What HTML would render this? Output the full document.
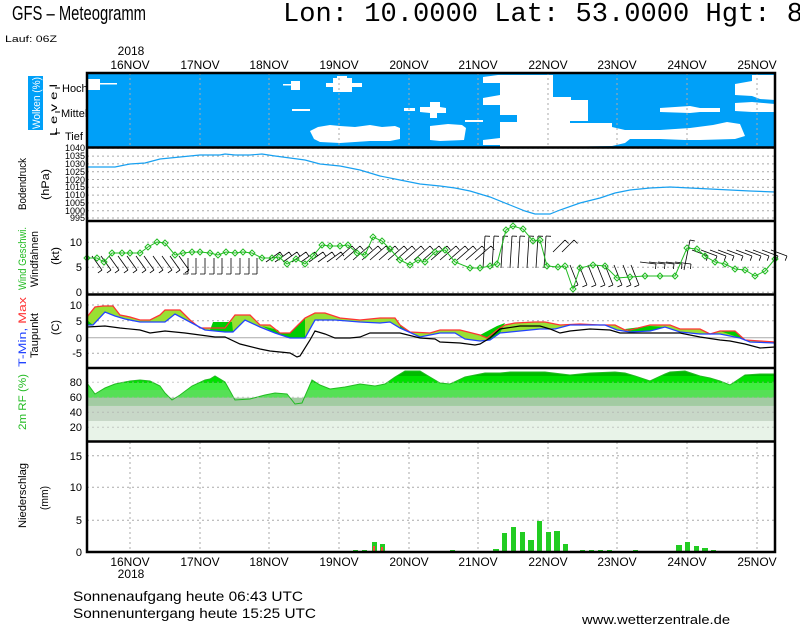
<!DOCTYPE html>
<html><head><meta charset="utf-8"><style>
html,body{margin:0;padding:0;background:#fff;}
svg{display:block;font-family:"Liberation Sans",sans-serif;}
</style></head><body>
<svg width="800" height="625" viewBox="0 0 800 625" xmlns="http://www.w3.org/2000/svg">
<rect width="800" height="625" fill="#fff"/>
<!-- titles -->
<text x="12" y="20" font-size="20" textLength="134" lengthAdjust="spacingAndGlyphs">GFS – Meteogramm</text>
<text x="283" y="21" font-size="27" font-family="Liberation Mono, monospace" textLength="520" lengthAdjust="spacingAndGlyphs">Lon: 10.0000 Lat: 53.0000 Hgt: 8</text>
<text x="5" y="42" font-size="9" textLength="52" lengthAdjust="spacingAndGlyphs">Lauf: 06Z</text>

<!-- top date labels -->
<g font-size="12" text-anchor="middle">
<text x="131" y="55">2018</text>
<text x="130" y="69">16NOV</text><text x="200" y="69">17NOV</text><text x="269" y="69">18NOV</text>
<text x="339" y="69">19NOV</text><text x="409" y="69">20NOV</text><text x="478" y="69">21NOV</text>
<text x="548" y="69">22NOV</text><text x="617" y="69">23NOV</text><text x="687" y="69">24NOV</text>
<text x="757" y="69">25NOV</text>
<text x="130" y="566">16NOV</text><text x="200" y="566">17NOV</text><text x="269" y="566">18NOV</text>
<text x="339" y="566">19NOV</text><text x="409" y="566">20NOV</text><text x="478" y="566">21NOV</text>
<text x="548" y="566">22NOV</text><text x="617" y="566">23NOV</text><text x="687" y="566">24NOV</text>
<text x="757" y="566">25NOV</text>
<text x="131" y="578">2018</text>
</g>

<!-- CLOUD PANEL -->
<rect x="87" y="73" width="688" height="74" fill="#00a0f8"/>
<g fill="#fff">
<rect x="88" y="79" width="12" height="11"/><rect x="100" y="83" width="17" height="1.5"/>
<rect x="283" y="84" width="10" height="1.5"/><rect x="291" y="81" width="9" height="9"/>
<rect x="326" y="83" width="36" height="4"/><rect x="333" y="78" width="19" height="14"/><rect x="337" y="76" width="10" height="2"/>
<rect x="292" y="109" width="18" height="2"/>
<polygon points="310,131 318,127 330,125 340,126 355,127 370,125 382,127 395,126 400,128 400,139 390,141 370,141 340,143 320,142 314,139"/>
<rect x="404" y="108" width="11" height="3"/>
<polygon points="420,107 430,107 430,102 440,102 440,107 446,108 446,113 437,113 437,118 430,118 430,113 420,112"/>
<polygon points="430,126 448,124 462,125 466,128 464,140 440,141 430,140"/>
<polygon points="483,77 498,75 553,75 553,97 571,97 571,100 588,100 588,121 570,121 570,123 612,123 612,127 625,130 660,130 690,128 713,125 727,122 740,124 745,136 735,139 700,140 685,140 660,139 630,139 625,143 612,146 560,147 500,147 500,145 483,145 483,140 500,138 500,122 517,122 517,115 500,115 500,105 483,105 483,98 500,95 500,83 483,83"/>
<rect x="465" y="120" width="18" height="2"/>
<polygon points="660,108 690,106 700,108 700,112 690,113 660,112"/>
<rect x="700" y="108" width="20" height="4"/>
<polygon points="735,103 752,102 775,104 775,112 752,112 735,111"/>
<polygon points="735,84 752,81 752,75 775,75 775,100 760,99 752,96 735,95"/>
</g>
<g stroke="#aaa" stroke-dasharray="2,3" stroke-width="1">
<path d="M130 73V147M200 73V147M269 73V147M339 73V147M409 73V147M478 73V147M548 73V147M617 73V147M687 73V147M757 73V147"/>
</g>
<rect x="28" y="76" width="15" height="54" fill="#00a0f8"/>
<text transform="translate(40,129) rotate(-90)" font-size="11" fill="#fff" textLength="52" lengthAdjust="spacingAndGlyphs">Wolken (%)</text>
<text transform="translate(57,136) rotate(-90)" font-size="10" textLength="52" lengthAdjust="spacingAndGlyphs">L e v e l</text>
<g font-size="11"><text x="62" y="92">Hoch</text><text x="61" y="117">Mittel</text><text x="65" y="140">Tief</text></g>
<path d="M55 88H60M55 112H60M55 133H60" stroke="#000"/>

<!-- PRESSURE -->
<g stroke="#aaa" stroke-dasharray="2,3">
<path d="M87 148.3H775M87 156.1H775M87 163.9H775M87 171.7H775M87 179.5H775M87 187.3H775M87 195.1H775M87 202.9H775M87 210.7H775M87 218H775"/>
</g>
<g font-size="9" text-anchor="end">
<text x="85" y="151">1040</text><text x="85" y="159">1035</text><text x="85" y="167">1030</text><text x="85" y="175">1025</text><text x="85" y="183">1020</text><text x="85" y="190">1015</text><text x="85" y="198">1010</text><text x="85" y="206">1005</text><text x="85" y="214">1000</text><text x="85" y="221">995</text>
</g>
<text transform="translate(26,210) rotate(-90)" font-size="11" textLength="52" lengthAdjust="spacingAndGlyphs">Bodendruck</text>
<text transform="translate(49,200) rotate(-90)" font-size="11" textLength="31" lengthAdjust="spacingAndGlyphs">(hPa)</text>
<polyline fill="none" stroke="#18a0f0" stroke-width="1.2" points="87,167 115,167 130,164 145,163 160,159 180,157 200,155 220,155 225,154 235,155 250,155 262,154 275,156 290,158 305,160 320,164 340,166 360,170 380,176 400,180 420,184 440,186 455,188 470,191 490,197 510,205 525,211 535,214 550,214 560,210 580,203 600,198 615,193 630,190 650,188 670,187 690,188 710,189 730,190 750,191 775,192"/>

<!-- WIND -->
<g stroke="#aaa" stroke-dasharray="2,3"><path d="M87 242.3H775M87 267.3H775M87 292.3H775"/></g>
<g font-size="11" text-anchor="end"><text x="82" y="246">10</text><text x="82" y="271">5</text><text x="82" y="296">0</text></g>
<text transform="translate(26,290) rotate(-90)" font-size="11" fill="#22bb22" textLength="63" lengthAdjust="spacingAndGlyphs">Wind Geschwi.</text>
<text transform="translate(38,287) rotate(-90)" font-size="11" textLength="56" lengthAdjust="spacingAndGlyphs">Windfahnen</text>
<text transform="translate(59,265) rotate(-90)" font-size="11" textLength="18" lengthAdjust="spacingAndGlyphs">(kt)</text>
<path id="barbs" fill="none" stroke="#000" stroke-width="0.8" d=""/>
<polyline id="wsp" fill="none" stroke="#22bb22" stroke-width="1" points="87,258 97,258 104,262 112,253 122,253 130,253 140,253 148,247 157,242 165,243 175,255 183,253 192,252 200,252 210,253 218,255 226,252 235,253 243,252 252,253 262,258 272,258 279,257 287,264 296,259 305,264 313,256 322,245 330,246 340,246 348,245 357,253 365,255 373,237 382,241 390,249 400,260 410,265 418,260 425,262 435,252 445,250 455,262 470,268 480,268 490,266 497,264 506,230 513,226 523,229 533,241 540,240 547,266 558,267 565,266 573,289 580,268 593,265 605,266 617,278 630,277 645,276 660,276 675,276 687,248 697,249 705,256 715,262 725,264 735,269 745,270 755,276 765,271 775,259"/>
<g id="diam" fill="none" stroke="#22bb22"></g>

<!-- TEMPERATURE -->
<g stroke="#aaa" stroke-dasharray="2,3"><path d="M87 305H775M87 320.7H775M87 353.3H775"/></g>
<path d="M87 337.7H775" stroke="#aaa"/>
<g font-size="11" text-anchor="end"><text x="82" y="309">10</text><text x="82" y="325">5</text><text x="82" y="342">0</text><text x="82" y="357">-5</text></g>
<text transform="translate(26,367) rotate(-90)" font-size="11" textLength="70" lengthAdjust="spacingAndGlyphs"><tspan fill="#2244ff">T-Min, </tspan><tspan fill="#ff3333">Max</tspan></text>
<text transform="translate(38,358) rotate(-90)" font-size="11" textLength="45" lengthAdjust="spacingAndGlyphs">Taupunkt</text>
<text transform="translate(59,335) rotate(-90)" font-size="11" textLength="15" lengthAdjust="spacingAndGlyphs">(C)</text>
<polygon fill="#99e033" points="87,317 95,307 103,306 113,306 120,315 130,317 140,320 150,320 160,315 165,310 180,310 190,320 200,328 225,328 235,315 250,315 260,325 270,325 280,333 290,333 305,318 315,313 325,313 340,318 360,320 380,318 395,318 400,325 410,332 430,333 440,330 460,330 480,335 487,338 497,330 505,325 515,323 535,322 545,322 560,325 580,324 600,325 615,325 625,330 630,330 650,325 670,325 680,329 700,329 710,334 720,331 735,331 745,340 760,341 775,342 775,343 750,342 740,338 720,334 700,334 680,332 665,327 650,331 630,332 617,330 605,325 570,325 555,329 540,329 510,332 500,333 490,340 480,341 465,339 455,333 440,333 420,337 400,328 390,322 380,323 360,322 335,320 315,320 305,338 290,338 275,333 260,327 245,320 233,332 225,332 205,330 190,322 175,314 165,322 155,322 140,322 125,319 115,316 105,312 93,325 87,325"/>
<g fill="#00cc00">
<polygon points="87,320 93,325 87,325"/>
<polygon points="213,322 232,322 233,332 225,332 210,330"/>
<polygon points="262,326 278,330 280,333 290,333 305,318 305,338 290,338 275,333"/>
<polygon points="400,325 410,332 420,337 400,328"/>
<polygon points="480,335 497,326 505,323 500,333 490,340"/>
<polygon points="625,329 650,326 665,327 650,331 630,332"/>
<polygon points="720,331 735,331 745,340 740,338"/>
</g>
<polyline fill="none" stroke="#ff3333" stroke-width="1.3" points="87,317 95,307 103,306 113,306 120,315 130,317 140,320 150,320 160,315 165,310 180,310 190,320 200,328 225,328 235,315 250,315 260,325 270,325 280,333 290,333 305,318 315,313 325,313 340,318 360,320 380,318 395,318 400,325 410,332 430,333 440,330 460,330 480,335 487,338 497,330 505,325 515,323 535,322 545,322 560,325 580,324 600,325 615,325 625,330 630,330 650,325 670,325 680,329 700,329 710,334 720,331 735,331 745,340 760,341 775,342"/>
<polyline fill="none" stroke="#2244ff" stroke-width="1.3" points="87,325 93,325 105,312 115,316 125,319 140,322 155,322 165,322 175,314 190,322 205,330 225,332 233,332 245,320 260,327 275,333 290,338 305,338 315,320 335,320 360,322 380,323 390,322 400,328 420,337 440,333 455,333 465,339 480,341 490,340 500,333 510,332 540,329 555,329 570,325 605,325 617,330 630,332 650,331 665,327 680,332 700,334 720,334 740,338 750,342 775,343"/>
<polyline fill="none" stroke="#000" stroke-width="1.2" points="87,327 105,326 120,328 140,330 150,333 165,331 185,333 200,335 215,337 225,337 240,344 260,349 270,351 290,353 297,357 300,356 310,340 315,331 325,334 335,338 350,338 360,337 370,333 390,333 400,333 420,338 435,339 440,342 460,343 475,345 480,344 490,338 500,329 520,326 540,326 550,329 560,333 570,331 590,329 610,330 620,333 640,333 660,333 680,333 700,337 720,340 730,341 745,344 760,348 775,347"/>

<!-- RH -->
<defs><clipPath id="rh"><polygon points="87,441.5 87,383 95,394 105,388 115,384 130,381 140,380 150,381 160,386 165,393 172,400 180,395 192,386 205,380 210,379 215,376 225,382 235,400 250,399 265,395 275,393 287,394 295,404 302,403 312,380 320,385 330,389 345,387 360,384 375,386 385,384 395,377 405,371 420,371 430,377 440,383 450,384 465,377 475,375 485,373 500,373 510,372 545,372 570,375 590,373 615,372 625,373 635,376 650,381 665,374 670,372 685,371 700,376 710,378 720,381 730,385 745,375 760,374 775,374 775,441.5"/></clipPath></defs>
<g clip-path="url(#rh)">
<rect x="87" y="368" width="688" height="8" fill="#00bb00"/>
<rect x="87" y="376" width="688" height="7" fill="#00e000"/>
<rect x="87" y="383" width="688" height="7" fill="#40ee40"/>
<rect x="87" y="390" width="688" height="8" fill="#56e056"/>
<rect x="87" y="398" width="688" height="8" fill="#78d478"/>
</g>
<rect x="87" y="421" width="688" height="20.5" fill="#e8f3e8"/>
<rect x="87" y="405.7" width="688" height="15.3" fill="#c8d8c8"/>
<rect x="87" y="397.7" width="688" height="8" fill="#a3cba3"/>
<polyline fill="none" stroke="#22bb22" points="87,383 95,394 105,388 115,384 130,381 140,380 150,381 160,386 165,393 172,400 180,395 192,386 205,380 210,379 215,376 225,382 235,400 250,399 265,395 275,393 287,394 295,404 302,403 312,380 320,385 330,389 345,387 360,384 375,386 385,384 395,377 405,371 420,371 430,377 440,383 450,384 465,377 475,375 485,373 500,373 510,372 545,372 570,375 590,373 615,372 625,373 635,376 650,381 665,374 670,372 685,371 700,376 710,378 720,381 730,385 745,375 760,374 775,374"/>
<g stroke="#aaa" stroke-dasharray="2,3" opacity="0.6"><path d="M87 382.3H775M87 397.3H775M87 412.3H775M87 427.3H775"/></g>
<g font-size="11" text-anchor="end"><text x="82" y="386">80</text><text x="82" y="401">60</text><text x="82" y="416">40</text><text x="82" y="431">20</text></g>
<text transform="translate(26,430) rotate(-90)" font-size="11" fill="#22bb22" textLength="56" lengthAdjust="spacingAndGlyphs">2m RF (%)</text>

<!-- PRECIP -->
<g stroke="#aaa" stroke-dasharray="2,3">
<path d="M87 455.7H775M87 487.3H775M87 520.3H775"/>
<path d="M130 442V552M200 442V552M269 442V552M339 442V552M409 442V552M478 442V552M548 442V552M617 442V552M687 442V552M757 442V552"/>
</g>
<g font-size="11" text-anchor="end"><text x="82" y="460">15</text><text x="82" y="491">10</text><text x="82" y="524">5</text><text x="82" y="556">0</text></g>
<text transform="translate(26,528) rotate(-90)" font-size="11" textLength="65" lengthAdjust="spacingAndGlyphs">Niederschlag</text>
<text transform="translate(48,510) rotate(-90)" font-size="11" textLength="24" lengthAdjust="spacingAndGlyphs">(mm)</text>
<g fill="#22cc22">
<rect x="353" y="550" width="5" height="2"/><rect x="362" y="550" width="5" height="2"/><rect x="372" y="542" width="5" height="10"/><rect x="380" y="544" width="5" height="8"/>
<rect x="450" y="550" width="5" height="2"/>
<rect x="493" y="549" width="6" height="3"/><rect x="502" y="533" width="5" height="19"/><rect x="511" y="527" width="5" height="25"/><rect x="520" y="532" width="5" height="20"/><rect x="528" y="540" width="6" height="12"/><rect x="537" y="521" width="5" height="31"/><rect x="546" y="532" width="5" height="20"/><rect x="554" y="531" width="6" height="21"/><rect x="563" y="544" width="5" height="8"/>
<rect x="580" y="550" width="5" height="2"/><rect x="589" y="550" width="5" height="2"/><rect x="598" y="550" width="5" height="2"/><rect x="607" y="550" width="5" height="2"/><rect x="633" y="550" width="5" height="2"/>
<rect x="676" y="545" width="6" height="7"/><rect x="685" y="542" width="5" height="10"/><rect x="694" y="546" width="5" height="6"/><rect x="702" y="548" width="6" height="4"/><rect x="711" y="550" width="5" height="2"/>
</g>
<g fill="#ff4444"><rect x="373" y="546" width="2" height="6"/><rect x="381" y="547" width="2" height="5"/></g>

<!-- frames -->
<g fill="none" stroke="#000" stroke-width="2.5">
<rect x="87" y="73" width="688" height="479"/>
<path d="M87 147.5H775M87 221H775M87 294.5H775M87 368H775M87 441.5H775"/>
</g>

<!-- footer -->
<text x="73" y="601" font-size="14" textLength="230" lengthAdjust="spacingAndGlyphs">Sonnenaufgang heute 06:43 UTC</text>
<text x="73" y="618" font-size="14" textLength="243" lengthAdjust="spacingAndGlyphs">Sonnenuntergang heute 15:25 UTC</text>
<text x="582" y="624" font-size="13" textLength="148" lengthAdjust="spacingAndGlyphs">www.wetterzentrale.de</text>
</svg>
<script>
(function(){
var d="";
function seg(x,y,dx,dy){
  d+="M"+x+" "+y+"l"+dx+" "+dy;
  var L=Math.sqrt(dx*dx+dy*dy)||1, ux=dx/L, uy=dy/L;
  var ex=x+dx, ey=y+dy;
  d+="M"+ex.toFixed(1)+" "+ey.toFixed(1)+"l"+(-uy*5).toFixed(1)+" "+(ux*5).toFixed(1);
}
for(var x=92;x<772;x+=8.7){
  var xi=Math.round(x);
  if(x<180) seg(xi,256,10,14);
  else if(x<260) seg(xi,258,0,16);
  else if(x<330) seg(xi,262,14,-10);
  else if(x<480) seg(xi,260,16,-14);
  else if(x<545) seg(xi,268,2,-32);
  else if(x<570) seg(xi,252,12,-12);
  else if(x<640) seg(xi,265,8,20);
  else if(x<680) seg(xi,262,16,2);
  else if(x<692) seg(xi,270,6,-30);
  else seg(xi,250,16,6);
}
document.getElementById("barbs").setAttribute("d",d);
var pts=document.getElementById("wsp").getAttribute("points").trim().split(/\s+/);
var g=document.getElementById("diam"),s="";
pts.forEach(function(p){var a=p.split(",");var X=+a[0],Y=+a[1];
 s+='<path d="M'+X+' '+(Y-3)+'l3 3l-3 3l-3 -3z"/>';});
g.innerHTML=s;
})();
</script>
</body></html>
